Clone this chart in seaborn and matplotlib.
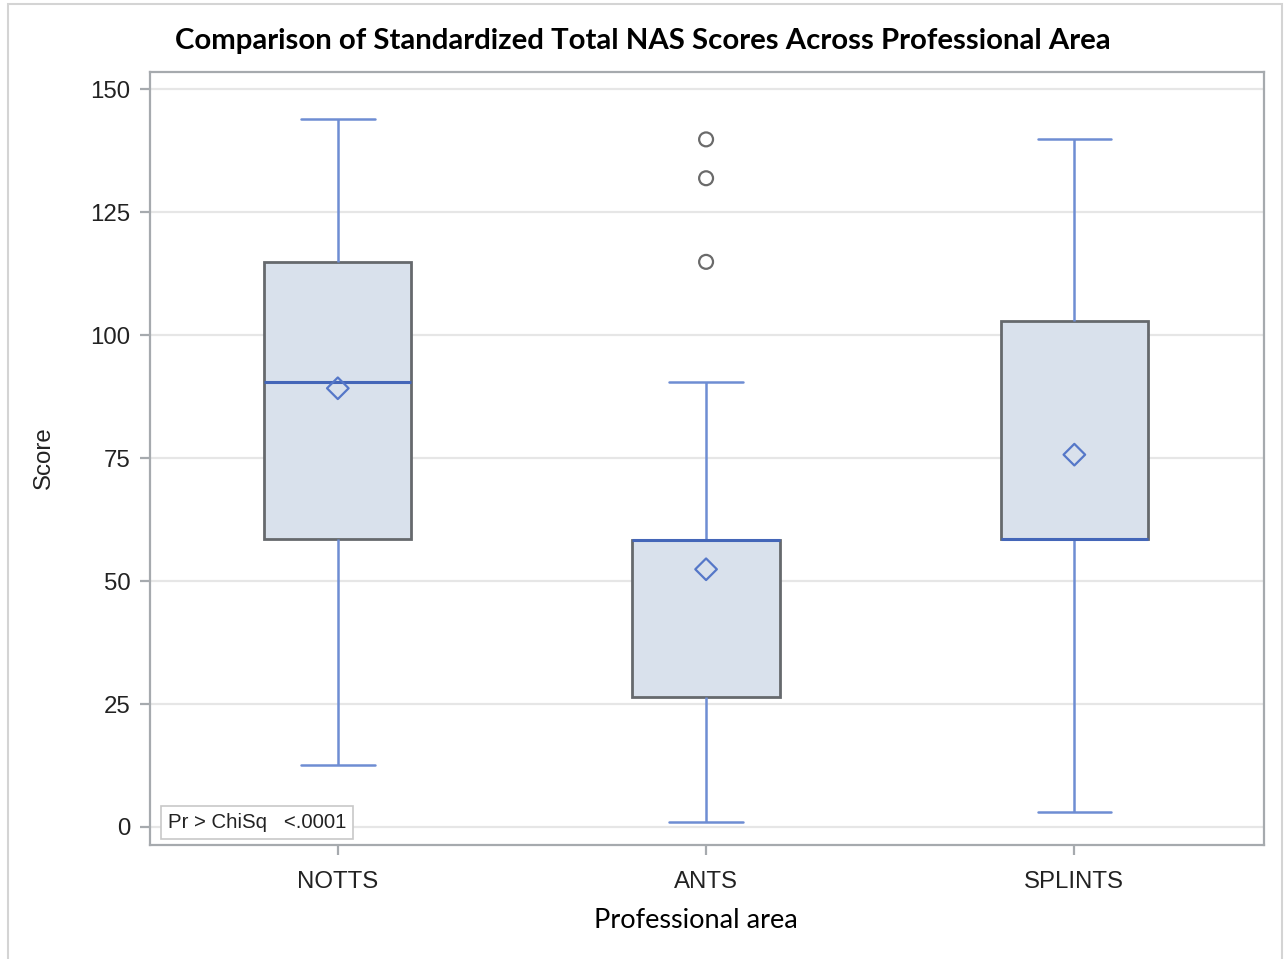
import numpy as np
import pandas as pd
import matplotlib.pyplot as plt
from matplotlib.patches import Rectangle
import seaborn as sns

# five-number summaries (whisker low, Q1, median, Q3, whisker high)
AREAS = ["NOTTS", "ANTS", "SPLINTS"]
NOTTS_STATS = [12.6, 58.5, 90.4, 114.9, 144.0]
ANTS_STATS = [1.0, 26.4, 58.4, 58.4, 90.4]
SPLINTS_STATS = [3.0, 58.5, 58.5, 102.9, 139.9]
MEANS = [89.2, 52.4, 75.7]
OUTLIER_AREA = ["ANTS", "ANTS", "ANTS"]
OUTLIER_VALUES = [139.8, 131.9, 114.9]
Y_TICKS = [0, 25, 50, 75, 100, 125, 150]

BOX_FILL = "#D9E1EC"
BOX_EDGE = "#66696D"
WHISKER = "#6E8DD3"
MEDIAN = "#4466B8"
MEAN_C = "#5577C8"
OUTLIER_C = "#6A6A6A"
SPINE = "#A6AAAE"

sns.set_theme(style="white")
plt.rcParams["font.family"] = ["Liberation Sans", "DejaVu Sans"]

df = pd.DataFrame({
    "area": np.repeat(AREAS, 5),
    "score": NOTTS_STATS + ANTS_STATS + SPLINTS_STATS,
})
means_df = pd.DataFrame({"area": AREAS, "score": MEANS})
out_df = pd.DataFrame({"area": OUTLIER_AREA, "score": OUTLIER_VALUES})

fig = plt.figure(figsize=(12.86, 9.59), dpi=100)
ax = fig.add_axes([150 / 1286, 1 - 845 / 959, 1114 / 1286, 773 / 959])

sns.boxplot(data=df, x="area", y="score", order=AREAS, whis=(0, 100), width=0.40,
            color=BOX_FILL, ax=ax, zorder=2,
            boxprops=dict(facecolor=BOX_FILL, edgecolor=BOX_EDGE, linewidth=2.0),
            whiskerprops=dict(color=WHISKER, linewidth=1.8),
            capprops=dict(color=WHISKER, linewidth=1.8),
            medianprops=dict(color=MEDIAN, linewidth=2.2),
            showfliers=False)

sns.stripplot(data=means_df, x="area", y="score", order=AREAS, jitter=False,
              marker="D", size=11, facecolor="none", edgecolor=MEAN_C,
              linewidth=1.6, ax=ax, zorder=4)
sns.stripplot(data=out_df, x="area", y="score", order=AREAS, jitter=False,
              marker="o", size=10, facecolor="none", edgecolor=OUTLIER_C,
              linewidth=1.6, ax=ax, zorder=4)

ax.set_xlim(-0.51, 2.515)
ax.set_ylim(-3.66, 153.5)
ax.set_yticks(Y_TICKS)
ax.yaxis.grid(True, color="#E6E6E6", linewidth=1.6, zorder=0)
ax.xaxis.grid(False)
ax.set_axisbelow(True)
for s in ax.spines.values():
    s.set_color(SPINE)
    s.set_linewidth(1.6)
    s.set_visible(True)
ax.tick_params(axis="both", which="major", direction="out", length=7, width=1.6,
               color=SPINE, labelsize=17.3, labelcolor="#222222", pad=7,
               bottom=True, left=True)
ax.tick_params(axis="x", pad=12)
ax.set_xlabel("")
ax.set_ylabel("")

ax.text(0.016, 0.017, "Pr > ChiSq   <.0001", transform=ax.transAxes,
        fontsize=14.7, color="#222222", ha="left", va="bottom", zorder=6,
        bbox=dict(boxstyle="square,pad=0.35", fc="white", ec="#C8C8C8", lw=1.2))

fig.text(0.5, 1 - 41 / 959, "Comparison of Standardized Total NAS Scores Across Professional Area",
         ha="center", va="center", fontsize=21.2, fontweight="bold",
         family=["Lato", "DejaVu Sans"], color="black")
fig.text(696 / 1286, 1 - 920 / 959, "Professional area", ha="center", va="center",
         fontsize=19.5, family=["Lato", "DejaVu Sans"], color="black")
fig.text(44 / 1286, 1 - 458 / 959, "Score", ha="center", va="center", rotation=90,
         fontsize=17.3, color="#222222")

fig.add_artist(Rectangle((8 / 1286, -0.01), 1274 / 1286, 1.01 - 4 / 959,
                         transform=fig.transFigure, fill=False, ec="#D4D4D4", lw=1.5))

plt.savefig("out.png", dpi=100)
